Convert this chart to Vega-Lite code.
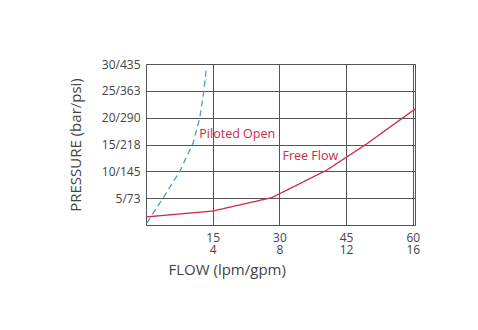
{
  "$schema": "https://vega.github.io/schema/vega-lite/v6.json",
  "autosize": {"type": "none"},
  "padding": {"left": 146, "top": 64, "right": 63, "bottom": 105},
  "width": 269,
  "height": 161,
  "background": "white",
  "config": {
    "font": "Open Sans",
    "view": {"stroke": "#555", "strokeWidth": 1},
    "axis": {"labelFont": "Open Sans", "titleFont": "Open Sans", "labelColor": "#444", "titleColor": "#444", "titleFontWeight": "normal", "gridColor": "#555", "gridOpacity": 1, "ticks": false, "domain": false, "labelOverlap": false}
  },
  "datasets": {
    "curves": [
      {"series": "Free Flow", "flow": 0, "pressure": 1.5},
      {"series": "Free Flow", "flow": 15, "pressure": 2.6},
      {"series": "Free Flow", "flow": 28.3, "pressure": 5.1},
      {"series": "Free Flow", "flow": 40.6, "pressure": 10.2},
      {"series": "Free Flow", "flow": 49.6, "pressure": 15.1},
      {"series": "Free Flow", "flow": 60.5, "pressure": 21.6},
      {"series": "Piloted Open", "flow": 0.2, "pressure": 0.4},
      {"series": "Piloted Open", "flow": 3.9, "pressure": 5.1},
      {"series": "Piloted Open", "flow": 7.6, "pressure": 10},
      {"series": "Piloted Open", "flow": 10.6, "pressure": 15.3},
      {"series": "Piloted Open", "flow": 12.1, "pressure": 20},
      {"series": "Piloted Open", "flow": 13.0, "pressure": 24.9},
      {"series": "Piloted Open", "flow": 13.6, "pressure": 29.4}
    ],
    "labels": [
      {"series": "Piloted Open", "flow": 12, "pressure": 16.9},
      {"series": "Free Flow", "flow": 30.7, "pressure": 12.8}
    ]
  },
  "encoding": {
    "x": {"field": "flow", "type": "quantitative", "scale": {"domain": [0, 60.5], "nice": false, "zero": false},
      "axis": {"values": [15, 30, 45, 60], "labelExpr": "[datum.value + '', (datum.value / 3.75) + '']", "labelFontSize": 12, "labelLineHeight": 12, "labelPadding": 7, "labelOverlap": false, "labelFlush": false,
        "title": "FLOW (lpm/gpm)", "titleFontSize": 15, "titleAnchor": "start", "titleAlign": "left", "titleX": 22, "titleY": 44, "titleBaseline": "middle"}},
    "y": {"field": "pressure", "type": "quantitative", "scale": {"domain": [0, 30], "nice": false, "zero": false},
      "axis": {"values": [5, 10, 15, 20, 25, 30], "tickCount": 6, "labelExpr": "datum.value + '/' + round(datum.value * 14.5038)", "labelFontSize": 12, "labelPadding": 6, "labelOverlap": false, "labelFlush": false,
        "title": "PRESSURE (bar/psi)", "titleFontSize": 15, "titlePadding": 18}}
  },
  "layer": [
    {
      "data": {"name": "curves"},
      "mark": {"type": "line", "strokeWidth": 1.3},
      "encoding": {
        "color": {"field": "series", "type": "nominal", "scale": {"domain": ["Free Flow", "Piloted Open"], "range": ["#cc2a45", "#4a9fc4"]}, "legend": null},
        "strokeDash": {"field": "series", "type": "nominal", "scale": {"domain": ["Free Flow", "Piloted Open"], "range": [[1, 0], [6, 4]]}, "legend": null}
      }
    },
    {
      "data": {"name": "labels"},
      "mark": {"type": "text", "align": "left", "baseline": "middle", "fontSize": 12.5, "color": "#cc2a45"},
      "encoding": {
        "text": {"field": "series"}
      }
    }
  ]
}
